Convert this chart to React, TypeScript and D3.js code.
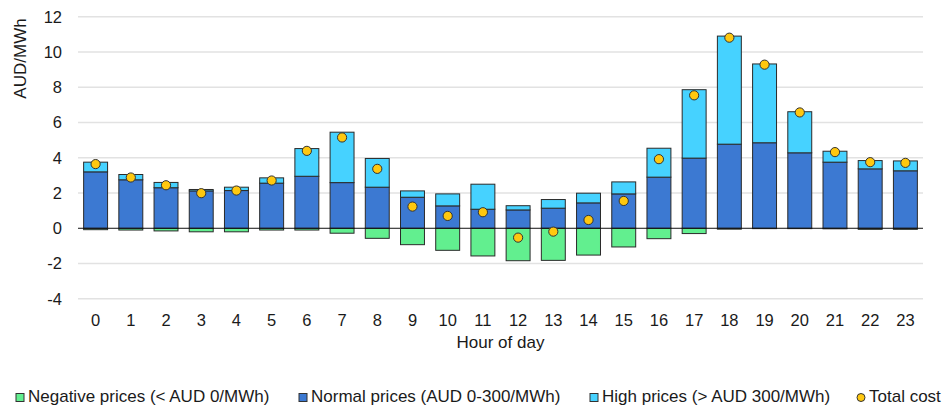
import React from 'react';
import * as d3 from 'd3';

// hour of day, 0..23
const hours = d3.range(24).map(String);
// AUD/MWh contribution of each price band
const negative = [-0.08, -0.1, -0.15, -0.2, -0.2, -0.1, -0.1, -0.28, -0.57, -0.93, -1.25, -1.57, -1.84, -1.82, -1.52, -1.06, -0.59, -0.3, -0.05, -0.02, -0.02, -0.03, -0.06, -0.06];
const normal = [3.2, 2.75, 2.3, 2.12, 2.14, 2.56, 2.95, 2.59, 2.33, 1.76, 1.27, 1.08, 1.04, 1.14, 1.44, 1.95, 2.9, 3.98, 4.77, 4.85, 4.28, 3.75, 3.37, 3.26];
const high = [0.55, 0.3, 0.3, 0.08, 0.19, 0.3, 1.57, 2.86, 1.63, 0.36, 0.68, 1.42, 0.24, 0.49, 0.55, 0.68, 1.64, 3.88, 6.13, 4.47, 2.33, 0.62, 0.47, 0.56];
const totalCost = [3.64, 2.88, 2.44, 1.99, 2.14, 2.71, 4.39, 5.15, 3.37, 1.23, 0.7, 0.91, -0.53, -0.19, 0.47, 1.55, 3.92, 7.54, 10.81, 9.28, 6.57, 4.32, 3.75, 3.71];
const yTicks = [-4, -2, 0, 2, 4, 6, 8, 10, 12];

const colors = {
  negative: '#62ef8f',
  normal: '#3c79d2',
  high: '#46d2ff',
  total: '#ffc80f',
};

const legendItems = [
  { label: 'Negative prices (< AUD 0/MWh)', color: colors.negative, x: 16, dot: false },
  { label: 'Normal prices (AUD 0-300/MWh)', color: colors.normal, x: 299, dot: false },
  { label: 'High prices (> AUD 300/MWh)', color: colors.high, x: 590, dot: false },
  { label: 'Total cost', color: colors.total, x: 857, dot: true },
];

const W = 946;
const H = 410;
const left = 78;
const right = 923;
const font = '"Liberation Sans", Arial, sans-serif';

export default function App() {
  const x = d3.scaleBand().domain(hours).range([left, right]).paddingInner(0.32).paddingOuter(0.16);
  const y = d3.scaleLinear().domain([-4, 12]).range([298.8, 16.7]);
  const bw = x.bandwidth();

  return (
    <svg width={W} height={H} style={{ position: 'absolute', left: 0, top: 0 }} fontFamily={font}>
      {/* gridlines */}
      {yTicks.filter(t => t !== 0).map(t => (
        <line key={t} x1={left} x2={right} y1={y(t)} y2={y(t)} stroke="#e2e2e2" strokeWidth={1.5} />
      ))}
      {/* y tick labels */}
      {yTicks.map(t => (
        <text key={t} x={62} y={y(t)} dy="0.36em" textAnchor="end" fontSize={16.5} fill="#1a1a1a">{t}</text>
      ))}
      <text transform={`translate(26,58.5) rotate(-90)`} textAnchor="middle" fontSize={17} fill="#1a1a1a">AUD/MWh</text>

      {/* stacked bars */}
      {hours.map((h, i) => {
        const x0 = x(h)!;
        return (
          <g key={h} stroke="#2a2a2a" strokeWidth={1}>
            <rect x={x0} width={bw} y={y(0)} height={y(negative[i]) - y(0)} fill={colors.negative} />
            <rect x={x0} width={bw} y={y(normal[i])} height={y(0) - y(normal[i])} fill={colors.normal} />
            <rect x={x0} width={bw} y={y(normal[i] + high[i])} height={y(normal[i]) - y(normal[i] + high[i])} fill={colors.high} />
          </g>
        );
      })}
      <line x1={left} x2={right} y1={y(0)} y2={y(0)} stroke="#111" strokeWidth={1} />

      {/* total cost dots */}
      {hours.map((h, i) => (
        <circle key={h} cx={x(h)! + bw / 2} cy={y(totalCost[i])} r={4.6} fill={colors.total} stroke="#333" strokeWidth={1} />
      ))}

      {/* x tick labels */}
      {hours.map(h => (
        <text key={h} x={x(h)! + bw / 2} y={326} textAnchor="middle" fontSize={16.5} fill="#1a1a1a">{h}</text>
      ))}
      <text x={(left + right) / 2} y={348} textAnchor="middle" fontSize={17} fill="#1a1a1a">Hour of day</text>

      {/* legend */}
      {legendItems.map(item => (
        <g key={item.label}>
          {item.dot
            ? <circle cx={item.x + 4} cy={397.5} r={4} fill={item.color} stroke="#333" strokeWidth={1} />
            : <rect x={item.x} y={393.5} width={8} height={8} fill={item.color} stroke="#333" strokeWidth={1} />}
          <text x={item.x + 12} y={402} fontSize={17} fill="#1a1a1a">{item.label}</text>
        </g>
      ))}
    </svg>
  );
}
